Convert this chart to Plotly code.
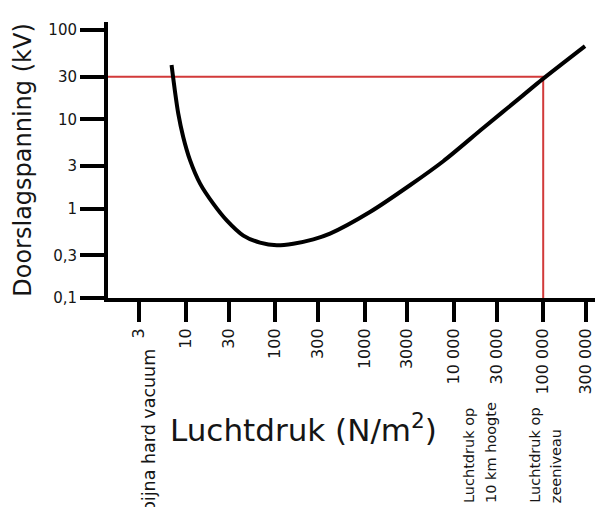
import math
import plotly.graph_objects as go

# --- data ---
pressure = [6.9, 7.5, 8.2, 9.3, 11.1, 14.4, 20.2, 28.6, 43.9, 67.4, 104, 159, 267,
            410, 1148, 3220, 7600, 21300, 59800, 97700, 294000]            # N/m^2
voltage = [40.5, 21.2, 11.6, 6.4, 3.5, 1.91, 1.14, 0.74, 0.50, 0.417, 0.389, 0.406,
           0.454, 0.526, 0.918, 1.83, 3.4, 8.0, 18.7, 28, 66]              # kV

x_tick_vals = [3, 10, 30, 100, 300, 1000, 3000, 10000, 30000, 100000, 300000]
x_tick_text = ["3", "10", "30", "100", "300", "1000", "3000", "10 000", "30 000",
               "100 000", "300 000"]
y_tick_vals = [0.1, 0.3, 1, 3, 10, 30, 100]
y_tick_text = ["0,1", "0,3", "1", "3", "10", "30", "100"]

ref_pressure = 100000   # luchtdruk op zeeniveau
ref_voltage = 30        # kV
vacuum_pressure = 3
altitude_pressure = 30000

FONT = "DejaVu Sans"
INK = "#151515"
RED = "#d23a3a"

fig = go.Figure()

# red reference lines (clipped by the plot area)
fig.add_trace(go.Scatter(
    x=[1, ref_pressure, ref_pressure], y=[ref_voltage, ref_voltage, 0.05],
    mode="lines", line=dict(color=RED, width=2), hoverinfo="skip", showlegend=False))

# breakdown curve
fig.add_trace(go.Scatter(
    x=pressure, y=voltage, mode="lines",
    line=dict(color="black", width=4, shape="spline", smoothing=0.8),
    showlegend=False))

fig.update_layout(
    width=595, height=507,
    margin=dict(l=108, r=0, t=22, b=209),
    paper_bgcolor="white", plot_bgcolor="white",
    font=dict(family=FONT, color=INK),
)

fig.update_xaxes(
    type="log", range=[0.127, 5.58],
    showgrid=False, zeroline=False,
    showline=True, linewidth=4, linecolor="black",
    ticks="outside", ticklen=20, tickwidth=4, tickcolor="black",
    tickvals=x_tick_vals, ticktext=x_tick_text, tickangle=-90,
    ticklabeloverflow="allow",
    tickfont=dict(size=16, family=FONT, color=INK),
)
fig.update_yaxes(
    type="log", range=[-1.0, 2.09],
    showgrid=False, zeroline=False,
    showline=True, linewidth=4, linecolor="black",
    ticks="outside", ticklen=24, tickwidth=4, tickcolor="black",
    tickvals=y_tick_vals, ticktext=y_tick_text,
    tickfont=dict(size=15, family=FONT, color=INK),
    title=dict(text="Doorslagspanning (kV)", font=dict(size=24, family=FONT, color=INK),
               standoff=11),
)

def ypx(p):
    # pixel row -> paper y (plot area spans rows 22..298)
    return (298 - p) / 276.0

notes = [
    dict(text="bijna hard vacuum", x=vacuum_pressure, xshift=10, y=ypx(346), yanchor="top", size=17.5),
    dict(text="Luchtdruk op", x=altitude_pressure, xshift=-28, y=ypx(505), yanchor="bottom", size=14.5),
    dict(text="10 km hoogte", x=altitude_pressure, xshift=-6, y=ypx(505), yanchor="bottom", size=14.5),
    dict(text="Luchtdruk op", x=ref_pressure, xshift=-9, y=ypx(505), yanchor="bottom", size=14.5),
    dict(text="zeeniveau", x=ref_pressure, xshift=13, y=ypx(505), yanchor="bottom", size=14.5),
]
for n in notes:
    fig.add_annotation(
        text=n["text"], xref="x", yref="paper", x=math.log10(n["x"]), y=n["y"],
        xshift=n["xshift"], xanchor="center", yanchor=n["yanchor"],
        textangle=-90, showarrow=False,
        font=dict(size=n["size"], family=FONT, color=INK))

fig.add_annotation(
    text="Luchtdruk (N/m<sup>2</sup>)", xref="paper", yref="paper",
    x=(303 - 108) / 487.0, y=ypx(428), xanchor="center", yanchor="middle",
    showarrow=False, font=dict(size=31, family=FONT, color=INK))

fig.write_html("out.html")
